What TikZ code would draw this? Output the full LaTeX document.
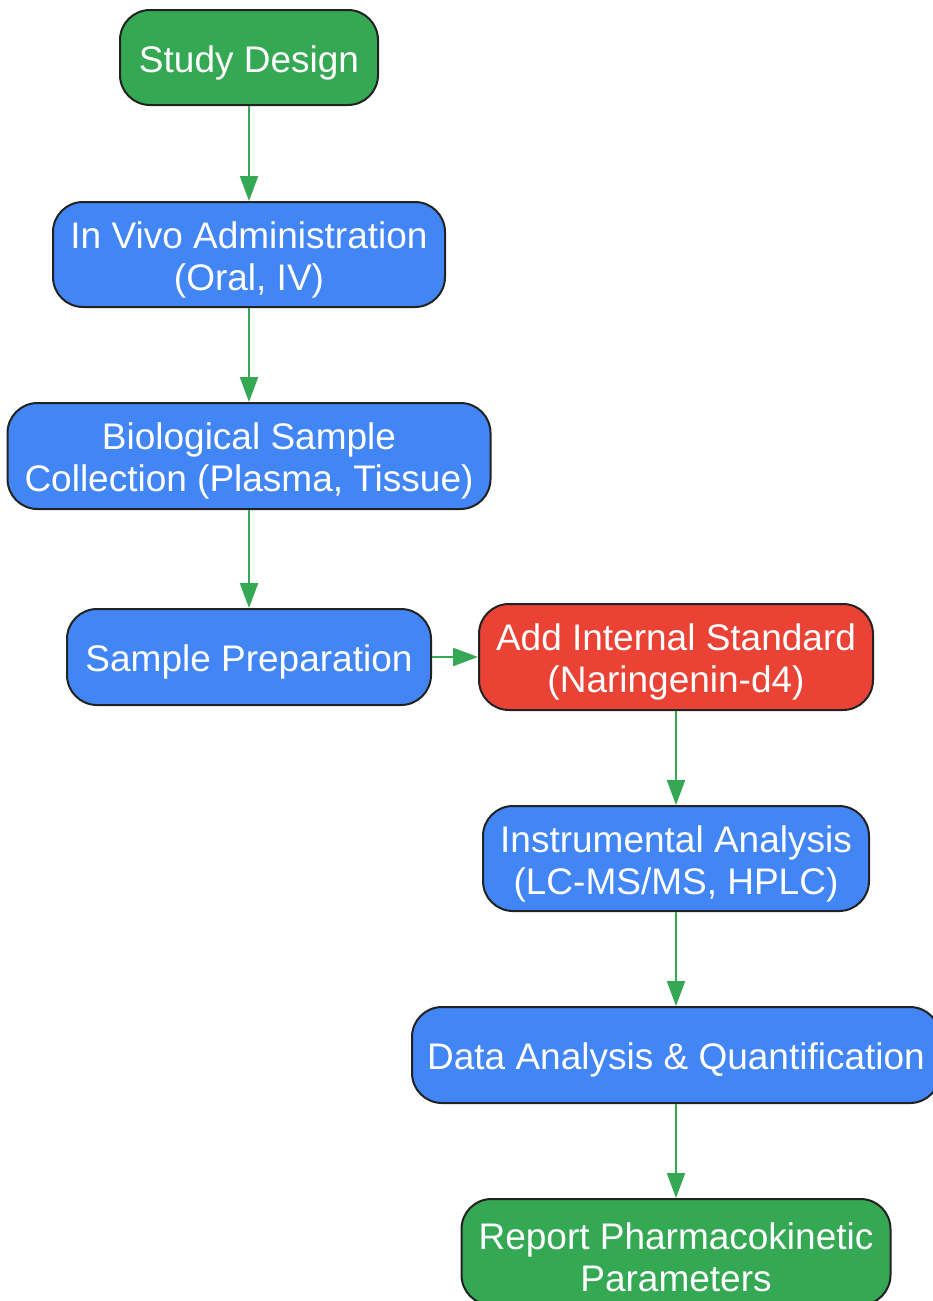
\documentclass[tikz,border=0pt]{standalone}
\usepackage{fontspec}
\setmainfont{Liberation Sans}
\usepackage{tikz}
\usetikzlibrary{arrows.meta}

\definecolor{gGreen}{HTML}{34A853}
\definecolor{gBlue}{HTML}{4285F4}
\definecolor{gRed}{HTML}{EA4335}
\definecolor{edgeDark}{HTML}{222222}

% strut that lowers the text a little in its box
\newcommand{\lowr}{\rule{0pt}{37pt}}

\begin{document}
\begin{tikzpicture}[x=1pt, y=-1pt]
    \clip (0, 0) rectangle (933, 1301);

    \begin{scope}[every node/.style={rectangle, rounded corners=30pt, draw=edgeDark, line width=2pt,
        text=white, align=center, inner sep=0pt,
        font=\fontsize{37}{42}\selectfont}]
      \node[fill=gGreen, minimum width=258pt, minimum height=95pt] (SD) at (249, 57.5) {\lowr Study Design};
      \node[fill=gBlue, minimum width=392pt, minimum height=105pt] (IVA) at (249, 254.5) {\lowr In Vivo Administration\\(Oral, IV)};
      \node[fill=gBlue, minimum width=483pt, minimum height=106pt] (BSC) at (249, 456) {\lowr Biological Sample\\Collection (Plasma, Tissue)};
      \node[fill=gBlue, minimum width=364pt, minimum height=96pt] (SP) at (249, 657) {\lowr Sample Preparation};
      \node[fill=gRed, minimum width=394pt, minimum height=106pt] (AIS) at (676, 657) {\lowr Add Internal Standard\\(Naringenin-d4)};
      \node[fill=gBlue, minimum width=386pt, minimum height=105pt] (IA) at (676, 858.5) {\lowr Instrumental Analysis\\(LC-MS/MS, HPLC)};
      \node[fill=gBlue, minimum width=528pt, minimum height=96pt] (DAQ) at (676, 1055) {\lowr Data Analysis \& Quantification};
      \node[fill=gGreen, minimum width=429pt, minimum height=106pt] (RPK) at (676, 1252) {\lowr Report Pharmacokinetic\\Parameters};
    \end{scope}

    \begin{scope}[gGreen, line width=2.2pt, -{Triangle[length=25pt, width=18pt]}]
      \draw (SD) -- (IVA);
      \draw (IVA) -- (BSC);
      \draw (BSC) -- (SP);
      \draw (SP) -- (AIS);
      \draw (AIS) -- (IA);
      \draw (IA) -- (DAQ);
      \draw (DAQ) -- (RPK);
    \end{scope}

  \end{tikzpicture}
\end{document}
